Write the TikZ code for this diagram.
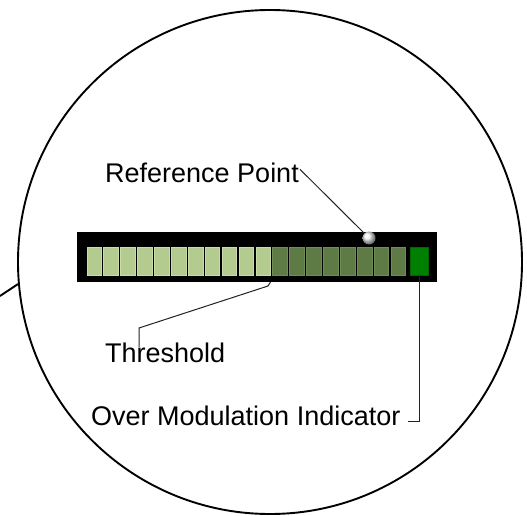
\documentclass[tikz,border=0pt]{standalone}
\usepackage{fontspec}
\setmainfont{Liberation Sans}
\definecolor{litefill}{HTML}{B3CB8F}
\definecolor{litedge}{HTML}{C9DCAA}
\definecolor{darkfill}{HTML}{5E7A45}
\definecolor{darkedge}{HTML}{718C58}
\definecolor{ovgreen}{HTML}{008000}
\definecolor{leadgray}{HTML}{222222}
\begin{document}
\begin{tikzpicture}[x=1pt,y=-1pt,
  lbl/.style={inner sep=0pt,anchor=base west,font=\fontsize{27}{31}\selectfont},
  leader/.style={draw=leadgray,line width=1pt},
  seglite/.style={fill=litefill,draw=litedge,line width=0.8pt},
  segdark/.style={fill=darkfill,draw=darkedge,line width=0.8pt}]
\useasboundingbox (0,0) rectangle (527,516);
% magnifier circle and tail
\node[circle,draw,line width=1.9pt,minimum size=504pt,inner sep=0pt] (lens) at (270,262) {};
\coordinate (tail) at (0,296);
\draw[line width=1.9pt] (tail) -- (lens.185);
% meter bar
\fill[black] (77,232) rectangle (437,282);
\foreach \i in {0,...,10} {
  \path[seglite] ({86.9+16.9*\i},247) rectangle ++(14.6,28);
}
\foreach \i in {11,...,18} {
  \path[segdark] ({86.9+16.9*\i},247) rectangle ++(14.6,28);
}
\node[fill=ovgreen,draw=ovgreen!80!black,line width=0.6pt,minimum width=18pt,minimum height=28pt,inner sep=0pt] (over) at (419.5,261) {};
\coordinate (thr) at (270.5,282);
\shade[ball color=white!90!gray] (369,238) circle (6.5pt);
\node[circle,minimum size=13pt,inner sep=0pt] (refpt) at (369,238) {};
% labels
\node[lbl] (reflbl) at (105,182) {Reference Point};
\node[lbl] (thrlbl) at (105,362) {Threshold};
\node[lbl] (ovlbl) at (91,425) {Over Modulation Indicator};
% leaders
\draw[leader] (reflbl.east) ++(1,-3) -- (refpt.north west);
\draw[leader] (139,347) -- (139,328) -- (268,286) -- (thr);
\draw[leader] ([xshift=7pt]ovlbl.base east) ++(0,-4) -| (over.south);
\end{tikzpicture}
\end{document}
